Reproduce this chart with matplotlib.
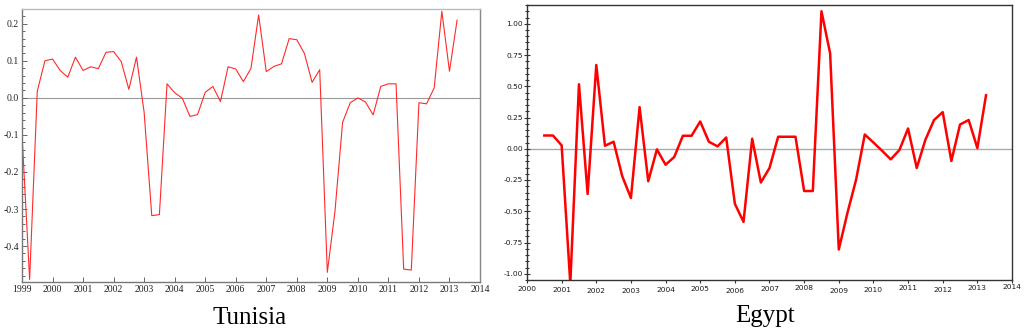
import numpy as np
import matplotlib
matplotlib.use("Agg")
import matplotlib.pyplot as plt
import matplotlib.transforms as mtrans
from matplotlib.ticker import MultipleLocator, FormatStrFormatter

# quarterly series, Tunisia starts 1999Q1, Egypt starts 2000Q3
tunisia_start = 1999.0
tunisia = [-0.098, -0.49, 0.018, 0.100,
           0.105, 0.074, 0.056, 0.110,
           0.074, 0.084, 0.079, 0.123,
           0.125, 0.098, 0.023, 0.110,
           -0.039, -0.318, -0.315, 0.038,
           0.014, -0.001, -0.050, -0.045,
           0.015, 0.031, -0.010, 0.084,
           0.078, 0.044, 0.080, 0.224,
           0.071, 0.085, 0.092, 0.160,
           0.157, 0.120, 0.042, 0.076,
           -0.471, -0.306, -0.066, -0.013,
           0.000, -0.011, -0.046, 0.031,
           0.038, 0.038, -0.462, -0.465,
           -0.013, -0.016, 0.027, 0.234,
           0.072, 0.210]

egypt_start = 2000.5
egypt = [0.106, 0.106,
         0.027, -1.08, 0.516, -0.362,
         0.670, 0.024, 0.056, -0.220,
         -0.394, 0.333, -0.260, -0.005,
         -0.128, -0.066, 0.104, 0.104,
         0.218, 0.056, 0.019, 0.090,
         -0.440, -0.585, 0.080, -0.270,
         -0.154, 0.096, 0.096, 0.096,
         -0.338, -0.338, 1.100, 0.763,
         -0.806, -0.513, -0.247, 0.114,
         0.050, -0.016, -0.085, -0.010,
         0.162, -0.154, 0.072, 0.230,
         0.293, -0.098, 0.194, 0.230,
         0.005, 0.428]

tun_years = list(range(1999, 2015))
egy_years = list(range(2000, 2015))

tx = tunisia_start + 0.25 * np.arange(len(tunisia))
ex = egypt_start + 0.25 * np.arange(len(egypt))

fig = plt.figure(figsize=(10.24, 3.35), dpi=100)

# ---- Tunisia ----
ax1 = fig.add_axes([22/1024, 1-282/335, 458/1024, 273/335])
ax1.plot(tx, tunisia, color="#ff2a2a", lw=0.8)
ax1.axhline(0, color="#999999", lw=0.8, zorder=0)
ax1.set_xlim(1999, 2014)
ax1.set_ylim(-0.497, 0.24)
ax1.set_xticks(tun_years)
ax1.yaxis.set_major_locator(MultipleLocator(0.1))
ax1.yaxis.set_minor_locator(MultipleLocator(0.02))
ax1.yaxis.set_major_formatter(FormatStrFormatter("%.1f"))
ax1.tick_params(axis="both", which="both", direction="in", colors="#666666",
                labelcolor="#222222", labelsize=7, width=0.7, pad=2)
ax1.tick_params(axis="both", which="major", length=3.5)
ax1.tick_params(axis="y", which="minor", length=2)
for lab in ax1.get_xticklabels() + ax1.get_yticklabels():
    lab.set_fontfamily("Liberation Serif")
ax1.spines["left"].set_color("#777777")
ax1.spines["bottom"].set_color("#777777")
ax1.spines["right"].set_color("#888888")
ax1.spines["top"].set_color("#bbbbbb")
for s in ax1.spines.values():
    s.set_linewidth(1.0)
fig.text(250/1024, 1-318/335, "Tunisia", ha="center", va="center",
         fontsize=18, family="Liberation Serif")

# ---- Egypt ----
ax2 = fig.add_axes([527/1024, 1-280/335, 485/1024, 275/335])
ax2.plot(ex, egypt, color="#ff0000", lw=1.8)
ax2.axhline(0, color="#aaaaaa", lw=1.0, zorder=0)
ax2.set_xlim(2000, 2014)
ax2.set_ylim(-1.05, 1.15)
ax2.set_xticks(egy_years)
ax2.yaxis.set_major_locator(MultipleLocator(0.25))
ax2.yaxis.set_minor_locator(MultipleLocator(0.05))
ax2.yaxis.set_major_formatter(FormatStrFormatter("%.2f"))
ax2.tick_params(axis="y", which="both", direction="inout", colors="#333333",
                labelcolor="#1a1a1a", labelsize=5.4, width=0.8, pad=0.3)
ax2.tick_params(axis="y", which="major", length=5)
ax2.tick_params(axis="y", which="minor", length=3)
ax2.tick_params(axis="x", which="major", direction="out", colors="#333333",
                labelcolor="#1a1a1a", labelsize=5.4, width=0.8, length=2.5, pad=2)
for s in ax2.spines.values():
    s.set_color("#333333")
    s.set_linewidth(1.0)

# the year labels in the original sit at slightly uneven heights
nudge = [0, -0.5, -1, -1, -0.5, 0.5, -1, 0, 1, -1, -0.5, 1, -0.5, 1, 1.5]
for lab, dy in zip(ax2.get_xticklabels(), nudge):
    lab.set_transform(lab.get_transform() +
                      mtrans.ScaledTranslation(0, dy / 72, fig.dpi_scale_trans))

fig.text(765/1024, 1-316/335, "Egypt", ha="center", va="center",
         fontsize=18, family="Liberation Serif")

fig.savefig("out.png", dpi=100)
